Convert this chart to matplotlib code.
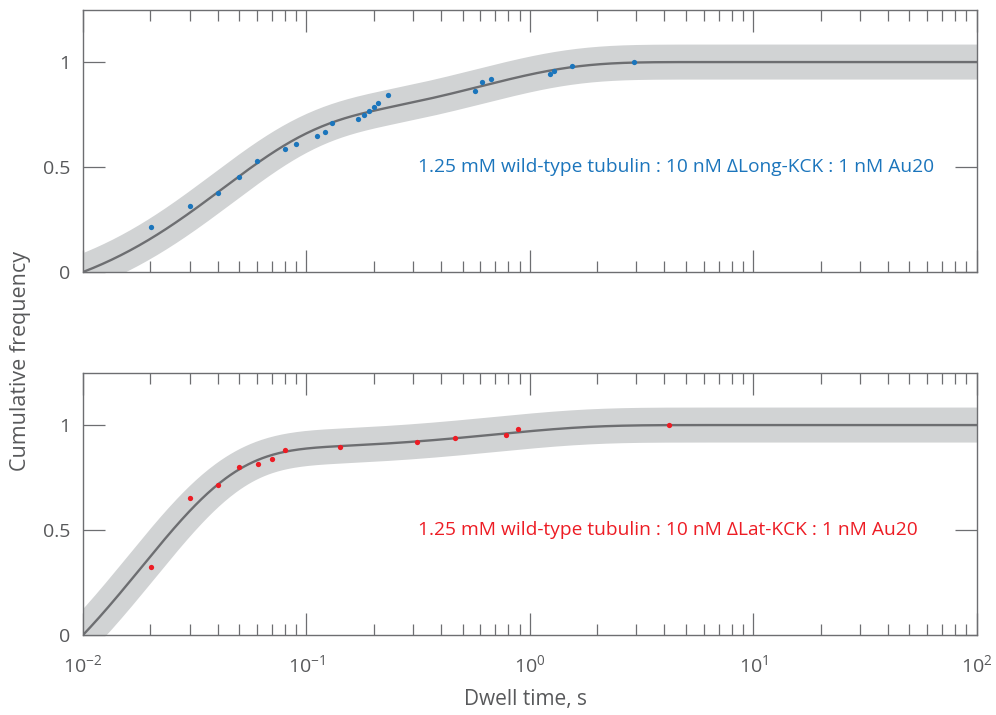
import numpy as np
import matplotlib
matplotlib.use("Agg")
import matplotlib.pyplot as plt

plt.rcParams['font.family'] = ['Open Sans', 'DejaVu Sans']
plt.rcParams['mathtext.fontset'] = 'custom'
plt.rcParams['mathtext.rm'] = 'Open Sans'
plt.rcParams['mathtext.it'] = 'Open Sans'
plt.rcParams['mathtext.bf'] = 'Open Sans'

# ---- data ----
blue_t = [0.0201, 0.030, 0.0404, 0.050, 0.060, 0.0803, 0.090, 0.111, 0.1205, 0.130,
          0.171, 0.181, 0.190, 0.200, 0.210, 0.231, 0.571, 0.613, 0.670, 1.227,
          1.279, 1.545, 2.92]
blue_y = [0.216, 0.314, 0.375, 0.451, 0.530, 0.587, 0.608, 0.648, 0.667, 0.708,
          0.727, 0.746, 0.767, 0.787, 0.806, 0.844, 0.863, 0.905, 0.921, 0.943,
          0.959, 0.979, 1.0]

red_t = [0.0201, 0.030, 0.0402, 0.050, 0.0604, 0.0703, 0.0803, 0.141, 0.311,
         0.462, 0.785, 0.885, 4.18]
red_y = [0.325, 0.654, 0.713, 0.798, 0.816, 0.837, 0.879, 0.897, 0.917,
         0.938, 0.952, 0.981, 1.0]

# two-exponential fit parameters (dead time t0, amplitudes, time constants)
fit_t0 = 0.01
blue_amp = [0.69, 0.31]
blue_tau = [0.04, 0.6]
red_amp = [0.88, 0.12]
red_tau = [0.0182, 0.7]

blue_label = "1.25 mM wild-type tubulin : 10 nM \u0394Long-KCK : 1 nM Au20"
red_label = "1.25 mM wild-type tubulin : 10 nM \u0394Lat-KCK : 1 nM Au20"

x_ticks = [1e-2, 1e-1, 1e0, 1e1, 1e2]
x_ticklabels = ["10$^{-2}$", "10$^{-1}$", "10$^{0}$", "10$^{1}$", "10$^{2}$"]
y_ticks = [0, 0.5, 1]
y_ticklabels = ["0", "0.5", "1"]

BLUE = '#1b75bc'
RED = '#ed1c24'
BAND = '#d1d3d4'
CURVE = '#6d6e71'
AX = '#6d6e71'
TXT = '#58595b'


def fit_curve(t, amp, tau):
    t = np.asarray(t)
    return 1 - sum(a * np.exp(-(t - fit_t0) / k) for a, k in zip(amp, tau))


W, H = 996, 715
fig = plt.figure(figsize=(W / 100, H / 100), dpi=100)
left, right = 83 / W, 976.7 / W
ax1 = fig.add_axes([left, 1 - 272 / H, right - left, 262 / H])
ax2 = fig.add_axes([left, 1 - 635 / H, right - left, 262 / H])

tt = np.logspace(np.log10(0.0092), 2.05, 600)

for ax, ts, ys, amp, tau, col, lab in [
        (ax1, blue_t, blue_y, blue_amp, blue_tau, BLUE, blue_label),
        (ax2, red_t, red_y, red_amp, red_tau, RED, red_label)]:
    ax.set_xscale('log')
    ax.set_xlim(1e-2, 1e2)
    ax.set_ylim(0, 1.248)
    fy = fit_curve(tt, amp, tau)
    ax.plot(tt, fy, color=BAND, lw=25.2, solid_capstyle='butt', zorder=2)
    ax.plot(tt, fy, color=CURVE, lw=1.7, zorder=3)
    ax.plot(ts, ys, 'o', color=col, ms=3.8, mec='none', zorder=4)
    ax.text(0.316, 0.5, lab, color=col, fontsize=13.8, va='center', ha='left')

    for s in ax.spines.values():
        s.set_color(AX)
        s.set_linewidth(1.0)
        s.set_zorder(5)
    ax.set_xticks(x_ticks)
    ax.set_yticks(y_ticks)
    ax.set_yticklabels(y_ticklabels)
    ax.xaxis.set_minor_locator(matplotlib.ticker.LogLocator(base=10, subs=np.arange(2, 10), numticks=20))
    ax.xaxis.set_minor_formatter(matplotlib.ticker.NullFormatter())
    ax.tick_params(which='major', direction='in', length=15.8, width=0.9, color=AX,
                   top=True, right=True, labelsize=14, labelcolor=TXT, pad=9)
    ax.tick_params(which='minor', direction='in', length=8, width=0.9, color=AX,
                   top=True, right=True)

ax1.set_xticklabels([])
ax2.set_xticklabels(x_ticklabels)
ax2.tick_params(axis='x', which='major', pad=14)
ax2.set_xlabel("Dwell time, s", fontsize=15, color=TXT)
ax2.xaxis.set_label_coords(0.495, -0.205)
fig.text(21 / W, 1 - 361 / H, "Cumulative frequency", rotation=90, fontsize=15.5,
         color=TXT, ha='center', va='center')

fig.savefig("out.png", dpi=100)
